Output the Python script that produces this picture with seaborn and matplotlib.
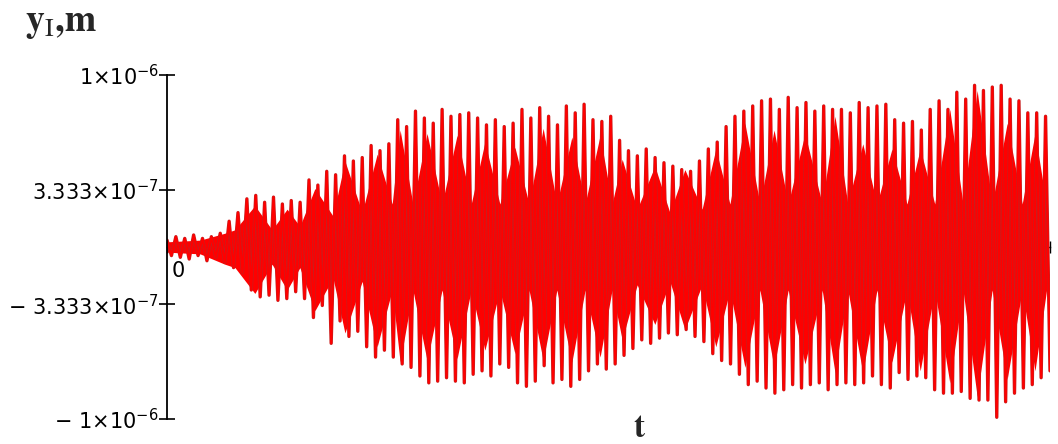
"""
Displacement y_I(t): dense red oscillation on Mathcad-style crossed axes.
"""

import numpy as np
import pandas as pd
import matplotlib
matplotlib.use("Agg")
import matplotlib.pyplot as plt
import seaborn as sns
from matplotlib.transforms import ScaledTranslation

# outer spike extremes, units of 1e-7 m (upper peak, lower peak magnitude), one per cycle
SPIKE_UP = [
    0.4, 0.6, 0.5, 0.7, 0.5, 0.6, 0.8, 1.5, 2.0, 2.8,
    3.0, 2.6, 2.9, 2.5, 2.7, 2.6, 3.9, 3.6, 4.4, 4.2,
    5.3, 5.0, 5.2, 5.9, 5.6, 6.0,
    7.4, 7.0, 7.9, 7.5, 7.2, 8.0, 7.6, 7.7, 7.8, 7.5,
    7.1, 7.4, 7.0, 7.2, 8.0, 7.5, 8.1, 7.6, 7.1, 8.2,
    7.8, 8.3, 7.4, 7.3, 7.6,
    6.2, 5.6, 5.3, 5.7, 5.2, 4.9, 4.7, 4.5, 4.4, 5.0,
    5.7, 6.1, 7.0, 7.6, 7.9, 8.2, 8.5, 8.6, 8.0, 8.7,
    8.1, 8.4, 7.9, 8.2, 8.0,
    8.0, 7.8, 8.4, 8.1, 8.2, 8.3, 7.4, 7.2, 7.3, 6.8,
    8.0, 8.5, 8.0, 9.0, 8.6, 9.4, 9.1, 9.3, 9.4, 8.6,
    8.5, 7.8, 7.8, 7.6,
]
SPIKE_DN = [
    0.5, 0.6, 0.7, 0.5, 0.8, 0.6, 0.9, 1.2, 1.5, 2.5,
    2.9, 2.8, 3.1, 3.0, 2.6, 3.0, 4.1, 3.4, 5.6, 4.3,
    5.2, 4.9, 5.8, 6.4, 6.0, 6.4,
    6.8, 7.0, 7.5, 7.9, 7.8, 7.6, 7.8, 7.9, 7.4, 7.2,
    7.5, 6.8, 7.0, 7.9, 8.1, 7.8, 6.9, 7.9, 7.7, 8.1,
    7.7, 7.2, 6.8, 7.1, 6.8,
    6.3, 5.9, 5.4, 5.6, 5.3, 5.0, 5.1, 4.8, 5.2, 5.5,
    6.2, 6.6, 6.8, 7.4, 8.0, 7.8, 8.2, 8.5, 8.3, 8.0,
    8.2, 8.0, 7.9, 8.3, 8.0,
    7.9, 8.0, 7.9, 7.5, 8.0, 8.2, 7.3, 7.7, 7.5, 7.6,
    8.3, 8.5, 8.5, 8.4, 8.8, 8.9, 8.9, 9.9, 9.0, 8.5,
    8.2, 8.0, 7.6, 7.2,
]

# solid inner core (beat lobes and nodes), t and 1e-7 m
CORE_T = [
    0.0, 0.75, 1.31, 1.54, 1.99, 2.38, 2.72, 3.01, 3.35, 3.76,
    4.03, 4.42, 4.76, 5.10, 5.28, 5.57, 5.89, 6.23, 6.57, 6.89,
    7.20, 7.54, 7.88, 8.20, 8.52, 8.83, 9.17, 9.47, 9.81, 10.08,
    10.31, 10.65, 11.05, 11.39, 11.73, 12.12, 12.43, 12.75, 13.09, 13.43,
    13.75, 14.07, 14.45, 14.84, 15.13, 15.42, 15.76, 16.08, 16.42, 16.76,
    17.06, 17.39, 17.73, 18.03, 18.35, 18.69, 19.03, 19.37, 19.66, 19.95,
]
CORE_UP = [
    0.3, 0.4, 0.8, 1.0, 2.4, 1.0, 2.2, 1.2, 3.4, 1.8,
    5.0, 2.0, 5.4, 2.5, 6.8, 2.5, 6.6, 2.5, 6.5, 2.5,
    6.1, 2.5, 5.8, 2.5, 6.9, 2.5, 6.4, 2.5, 6.5, 2.5,
    5.1, 2.2, 4.7, 2.0, 4.5, 2.2, 5.7, 2.5, 7.2, 2.5,
    6.8, 2.5, 6.6, 2.5, 7.6, 2.5, 6.0, 2.5, 5.7, 2.5,
    5.7, 2.5, 8.0, 2.5, 9.1, 2.5, 7.2, 2.5, 6.6, 2.0,
]
CORE_DN = [
    0.3, 0.4, 1.0, 1.2, 2.7, 1.0, 2.5, 1.2, 3.7, 1.8,
    5.0, 2.0, 5.8, 2.5, 6.7, 2.5, 6.6, 2.5, 6.5, 2.5,
    6.0, 2.5, 6.2, 2.5, 6.6, 2.5, 6.7, 2.5, 6.4, 2.5,
    5.4, 2.2, 4.5, 2.0, 4.8, 2.2, 5.8, 2.5, 7.0, 2.5,
    7.0, 2.5, 6.8, 2.5, 7.3, 2.5, 7.3, 2.5, 6.7, 2.5,
    7.2, 2.5, 7.9, 2.5, 8.7, 2.5, 7.7, 2.5, 7.2, 2.0,
]

Y_TICKS = [-1e-6, -3.333e-7, 3.333e-7, 1e-6]
Y_TICK_LABELS = [r"$-\ 1{\times}10^{-6}$", r"$-\ 3.333{\times}10^{-7}$",
                 r"$3.333{\times}10^{-7}$", r"$1{\times}10^{-6}$"]
X_TICKS = [0, 4, 8, 12, 16, 20]
X_TICK_LABELS = ["0", "4", "8", "12", "16", ""]
T_MAX = 20
SCALE = 1e-7

RED = "#ff0000"
DARK_RED = "#c81e1e"

sns.set_style("white")
plt.rcParams["font.family"] = ["DejaVu Sans"]
plt.rcParams["mathtext.fontset"] = "dejavusans"

# zigzag through successive extremes
vals = []
for up, dn in zip(SPIKE_UP, SPIKE_DN):
    vals.extend([up, -dn])
df = pd.DataFrame({
    "t": np.linspace(0, T_MAX, len(vals)),
    "y": np.array(vals) * SCALE,
})

fig = plt.figure(figsize=(10.58, 4.44), dpi=100)
ax = fig.add_axes([167 / 1058, 25 / 444, 883 / 1058, 344 / 444])
ax.set_axisbelow(True)

ax.fill_between(CORE_T, np.array(CORE_UP) * SCALE, -np.array(CORE_DN) * SCALE,
                color=RED, lw=0, zorder=2)
sns.lineplot(data=df, x="t", y="y", ax=ax, color=DARK_RED, lw=2.4,
             sort=False, estimator=None, zorder=3)
sns.lineplot(data=df, x="t", y="y", ax=ax, color=RED, lw=1.4,
             sort=False, estimator=None, zorder=3.5)

ax.set_xlim(0, T_MAX)
ax.set_ylim(-1e-6, 1e-6)
ax.set_xlabel("")
ax.set_ylabel("")

for side in ("top", "right"):
    ax.spines[side].set_visible(False)
ax.spines["left"].set_linewidth(1.3)
ax.spines["left"].set_color("black")
ax.spines["left"].set_zorder(4)
ax.spines["bottom"].set_position(("data", 0))
ax.spines["bottom"].set_linewidth(1.0)
ax.spines["bottom"].set_color("black")
ax.spines["bottom"].set_zorder(1)

ax.set_yticks(Y_TICKS)
ax.set_yticklabels(Y_TICK_LABELS)
ax.tick_params(axis="y", direction="inout", length=12, width=1.2,
               labelsize=15, pad=0, colors="black", left=True)
ax.set_xticks(X_TICKS)
ax.set_xticklabels(X_TICK_LABELS)
ax.tick_params(axis="x", direction="inout", length=8, width=1.0,
               labelsize=15, pad=6, colors="black", bottom=True)
offset = ScaledTranslation(0.05, 0, fig.dpi_scale_trans)
for lbl in ax.get_xticklabels():
    lbl.set_horizontalalignment("left")
    lbl.set_transform(lbl.get_transform() + offset)

fig.text(25 / 1058, 1 - 31 / 444, r"$\mathbf{y}_{\mathrm{I}}\mathbf{{,}m}$",
         fontsize=27, math_fontfamily="stix", ha="left", va="baseline")
fig.text(640 / 1058, 1 - 437 / 444, r"$\mathbf{t}$",
         fontsize=24, math_fontfamily="stix", ha="center", va="baseline")

fig.savefig("out.png", dpi=100)
plt.close(fig)
